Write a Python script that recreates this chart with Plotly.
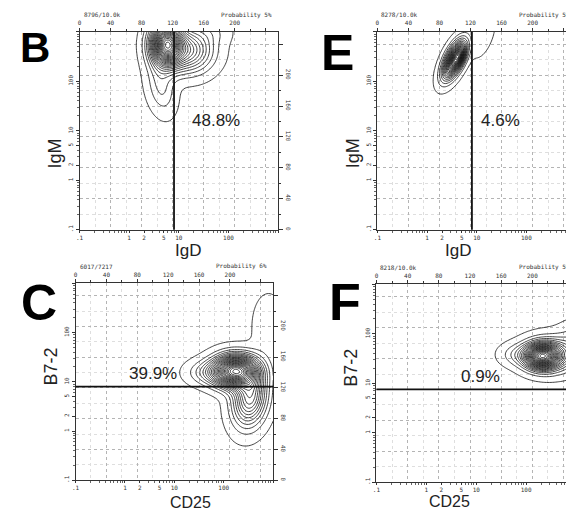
import numpy as np
import plotly.graph_objects as go

W, H = 574, 510

# ---------------- data ----------------
panel_letters = ["B", "E", "C", "F"]
x_titles = ["IgD", "IgD", "CD25", "CD25"]
y_titles = ["IgM", "IgM", "B7-2", "B7-2"]
event_labels = ["8796/10.0k", "8278/10.0k", "6017/7217", "8218/10.0k"]
prob_labels = ["Probability 5%", "Probability 5%", "Probability 6%", "Probability 5%"]
percent_labels = ["48.8%", "4.6%", "39.9%", "0.9%"]
percent_x = [55, 30, 3.7, 12.3]        # log-axis value
percent_y = [16, 16, 14.5, 14]
gate_values = [8, 8, 8, 7.5]
gate_orient = ["v", "v", "h", "h"]

log_tickvals = [0.1, 1, 2, 5, 10, 100, 1000]
log_ticktext = [".1", "1", "2", "5", "10", "100", ""]
lin_tickvals = [0, 40, 80, 120, 160, 200, 240]
lin_ticktext = ["0", "40", "80", "120", "160", "200", ""]

# population components (channel units 0-256): centre, spread, tilt, weight
B_cx = [112, 140, 170, 105]
B_cy = [240, 232, 256, 185]
B_sx = [13, 20, 16, 11]
B_sy = [18, 18, 10, 22]
B_ang = [0, 0, 0, 10]
B_w = [1.0, 0.40, 0.05, 0.12]

E_cx = [99, 104, 137]
E_cy = [220, 222, 250]
E_sx = [17, 9, 20]
E_sy = [7, 4.5, 8]
E_ang = [65, 65, 70]
E_w = [1.0, 0.6, 0.05]

C_cx = [207, 226, 175, 250]
C_cy = [142, 108, 140, 200]
C_sx = [18, 14, 18, 13]
C_sy = [13, 24, 10, 26]
C_ang = [0, -8, 0, 0]
C_w = [1.0, 0.45, 0.15, 0.05]

F_cx = [212, 225, 180, 256]
F_cy = [163, 165, 165, 185]
F_sx = [14, 22, 14, 15]
F_sy = [10, 14, 9, 15]
F_ang = [0, 0, 0, 0]
F_w = [1.0, 0.35, 0.10, 0.08]

blobs = [
    (B_cx, B_cy, B_sx, B_sy, B_ang, B_w),
    (E_cx, E_cy, E_sx, E_sy, E_ang, E_w),
    (C_cx, C_cy, C_sx, C_sy, C_ang, C_w),
    (F_cx, F_cy, F_sx, F_sy, F_ang, F_w),
]

# ---------------- layout geometry (pixels) ----------------
frames = [(68, 268, 24, 223), (368, 568, 24, 223), (64, 263, 277, 475), (367, 568, 278, 477)]
letter_pos = [(23, 40, 42), (328, 45, 50), (27, 297, 50), (335, 296, 52)]
xtitle_bottom = [254, 254, 507, 506]
xtitle_size = [17, 17, 16, 16]
show_right_labels = [True, False, True, False]


def px(x):
    return x / W


def py(y):
    return 1 - y / H


def sfx(k):
    return "" if k == 1 else str(k)


grid = np.arange(0, 257, 2.0)
GX, GY = np.meshgrid(grid, grid)

fig = go.Figure()
layout = {}
annotations = []
shapes = []
tickfont = dict(family="DejaVu Sans Mono", size=6, color="#333")
GRID_MAJ = "#b4b4b4"
GRID_MIN = "#dedede"

for i in range(4):
    l, r, t, b = frames[i]
    xd = [px(l), px(r)]
    yd = [py(b), py(t)]
    n = sfx(i + 1)
    m = sfx(i + 5)
    xa, ya, xb, yb = f"xaxis{n}", f"yaxis{n}", f"xaxis{m}", f"yaxis{m}"
    layout[xa] = dict(domain=xd, anchor=f"y{n}", type="log", range=[-1, 3],
                      tickvals=log_tickvals, ticktext=log_ticktext,
                      ticks="outside", ticklen=2, tickcolor="#333",
                      tickfont=tickfont, showline=True, linecolor="#333", linewidth=1,
                      showgrid=False, zeroline=False,
                      minor=dict(ticks="outside", ticklen=2, tickcolor="#666", dtick="D1"))
    layout[ya] = dict(domain=yd, anchor=f"x{n}", type="log", range=[-1, 3],
                      tickvals=log_tickvals, ticktext=log_ticktext, tickangle=-90,
                      ticks="outside", ticklen=3, tickcolor="#333",
                      tickfont=tickfont, showline=True, linecolor="#333", linewidth=1,
                      showgrid=False, zeroline=False,
                      minor=dict(ticks="outside", ticklen=2, tickcolor="#666", dtick="D1"))
    layout[xb] = dict(overlaying=f"x{n}", anchor=f"y{n}", side="top", range=[0, 256],
                      tickvals=lin_tickvals, ticktext=lin_ticktext,
                      ticks="outside", ticklen=3, tickcolor="#333", tickfont=tickfont,
                      showline=True, linecolor="#333", linewidth=1,
                      showgrid=True, gridcolor=GRID_MAJ, griddash="dot", gridwidth=1,
                      zeroline=False,
                      minor=dict(dtick=20, tick0=0, showgrid=True, gridcolor=GRID_MIN,
                                 griddash="dot", ticks="outside", ticklen=2))
    layout[yb] = dict(overlaying=f"y{n}", anchor=f"x{n}", side="right", range=[0, 256],
                      tickvals=lin_tickvals, ticktext=lin_ticktext, tickangle=90,
                      showticklabels=show_right_labels[i],
                      ticks="outside", ticklen=4, tickcolor="#333", tickfont=tickfont,
                      showline=True, linecolor="#333", linewidth=1,
                      showgrid=True, gridcolor=GRID_MAJ, griddash="dot", gridwidth=1,
                      zeroline=False,
                      minor=dict(dtick=20, tick0=0, showgrid=True, gridcolor=GRID_MIN,
                                 griddash="dot", ticks="outside", ticklen=2))

    # density from components
    cx, cy, sx, sy, ang, w = blobs[i]
    Z = np.zeros_like(GX)
    for k in range(len(cx)):
        a = np.deg2rad(ang[k])
        dx = GX - cx[k]
        dy = GY - cy[k]
        u = dx * np.cos(a) + dy * np.sin(a)
        v = -dx * np.sin(a) + dy * np.cos(a)
        Z += w[k] * np.exp(-0.5 * ((u / sx[k]) ** 2 + (v / sy[k]) ** 2))
    Z = Z / Z.max()
    fig.add_trace(go.Contour(
        x=grid, y=grid, z=Z, xaxis=f"x{m}", yaxis=f"y{m}",
        contours=dict(coloring="lines", start=0.012, end=0.98, size=0.042),
        line=dict(width=0.8, smoothing=1.0),
        colorscale=[[0, "#111"], [1, "#111"]], showscale=False, hoverinfo="skip"))

    # gate line
    if gate_orient[i] == "v":
        shapes.append(dict(type="line", xref=f"x{n}", yref=f"y{n} domain",
                           x0=gate_values[i], x1=gate_values[i], y0=0, y1=1,
                           line=dict(color="#111", width=1.8)))
    else:
        shapes.append(dict(type="line", xref=f"x{n} domain", yref=f"y{n}",
                           x0=0, x1=1, y0=gate_values[i], y1=gate_values[i],
                           line=dict(color="#111", width=1.8)))

    # percent label
    annotations.append(dict(x=np.log10(percent_x[i]), y=np.log10(percent_y[i]),
                            xref=f"x{n}", yref=f"y{n}", text=percent_labels[i],
                            showarrow=False, font=dict(family="Liberation Sans", size=17, color="#222")))
    # axis titles
    annotations.append(dict(x=px((l + r) / 2 - 5), y=py(xtitle_bottom[i]), xref="paper", yref="paper",
                            text=x_titles[i], showarrow=False, yanchor="bottom", borderpad=0,
                            font=dict(family="Liberation Sans", size=xtitle_size[i], color="#222")))
    annotations.append(dict(x=px(l - 25), y=py((t + b) / 2 + 6), xref="paper", yref="paper",
                            text=y_titles[i], showarrow=False, textangle=-90, xanchor="center",
                            font=dict(family="Liberation Sans", size=18, color="#222")))
    # header texts
    annotations.append(dict(x=px(l + 2), y=py(t - 17), xref="paper", yref="paper",
                            text=event_labels[i], showarrow=False, xanchor="left", yanchor="middle",
                            font=dict(family="DejaVu Sans Mono", size=6, color="#333")))
    annotations.append(dict(x=px(r - 4), y=py(t - 17), xref="paper", yref="paper",
                            text=prob_labels[i], showarrow=False, xanchor="right", yanchor="middle",
                            font=dict(family="DejaVu Sans Mono", size=6, color="#333")))
    # panel letter
    lx, ly, ls = letter_pos[i]
    annotations.append(dict(x=px(lx), y=py(ly), xref="paper", yref="paper",
                            text=f"<b>{panel_letters[i]}</b>", showarrow=False,
                            xanchor="center", yanchor="middle",
                            font=dict(family="Liberation Sans", size=ls, color="#000")))

fig.update_layout(width=W, height=H, margin=dict(l=0, r=0, t=0, b=0),
                  paper_bgcolor="white", plot_bgcolor="white", showlegend=False,
                  annotations=annotations, shapes=shapes, **layout)

fig.write_html("out.html")
